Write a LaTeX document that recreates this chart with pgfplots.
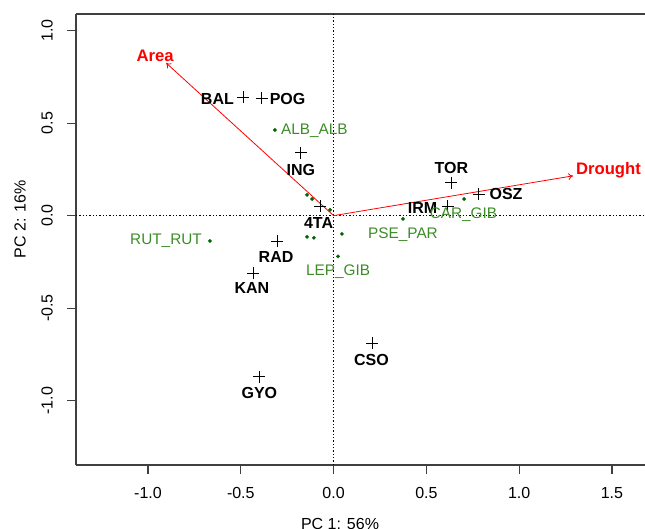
\documentclass[border=0pt]{standalone}
\usepackage{fontspec}
\setmainfont{Liberation Sans}
\usepackage{pgfplots}
\pgfplotsset{compat=1.18}
\usetikzlibrary{arrows.meta}

\definecolor{sppgreen}{RGB}{60,140,40}
\definecolor{dotgreen}{RGB}{0,100,0}
\definecolor{axisgray}{RGB}{64,64,64}
\definecolor{vecred}{RGB}{255,0,0}

\newcommand{\site}[3]{\node[font=\fontsize{12}{14}\selectfont\bfseries, inner sep=0pt] at (axis cs:#1,#2) {#3};}
\newcommand{\spp}[3]{\node[font=\fontsize{11.5}{13}\selectfont, text=sppgreen, inner sep=0pt] at (axis cs:#1,#2) {#3};}

\begin{document}
\begin{tikzpicture}
\begin{axis}[
  scale only axis,
  width=426.75pt, height=338.25pt,
  xmin=-1.388, xmax=1.678,
  ymin=-1.348, ymax=1.090,
  axis x line*=box, axis y line*=left,
  xtick pos=bottom, ytick pos=left,
  axis line style={axisgray, line width=0.9pt},
  tick style={axisgray, line width=0.9pt},
  tick align=outside,
  major tick length=6.75pt,
  xtick={-1,-0.5,0,0.5,1,1.5},
  ytick={-1,-0.5,0,0.5,1},
  minor tick num=0,
  /pgf/number format/.cd, fixed, fixed zerofill, precision=1, assume math mode=true,
  /pgfplots/.cd,
  ticklabel style={font=\fontsize{12}{14}\selectfont},
  xticklabel style={anchor=north, inner sep=0pt, yshift=-9.75pt},
  yticklabel style={xshift=-10.5pt, rotate=90, anchor=south, inner sep=0pt},
  xlabel={PC 1: 56\%},
  ylabel={PC 2: 16\%},
  label style={font=\fontsize{12}{14}\selectfont},
  xlabel style={at={(axis description cs:0.464,0)}, anchor=north, inner sep=0pt, yshift=-39.75pt},
  ylabel style={at={(axis description cs:0,0.545)}, anchor=south, inner sep=0pt, yshift=37.5pt},
  clip mode=individual,
]
\coordinate (ll) at (rel axis cs:0,0);
\coordinate (ur) at (rel axis cs:1,1);

% reference lines
\addplot[black, line width=0.6pt, dash pattern=on 0.9pt off 1.6pt] coordinates {(0,-1.348) (0,1.090)};
\addplot[black, line width=0.6pt, dash pattern=on 0.9pt off 1.6pt] coordinates {(-1.388,0) (1.678,0)};

% environmental vectors
\addplot[vecred, line width=0.6pt, -{To[length=3.5pt,width=5pt]}] coordinates {(0,0) (-0.902,0.825)};
\addplot[vecred, line width=0.6pt, -{To[length=3.5pt,width=5pt]}] coordinates {(0,0) (1.290,0.215)};

% species scores
\addplot[only marks, mark=*, mark size=1.2pt, dotgreen] coordinates {
  (-0.316,0.463) (-0.666,-0.137) (0.024,-0.220) (0.374,-0.018) (0.703,0.090)
  (-0.143,0.112) (-0.116,0.090) (-0.019,0.031)
  (-0.143,-0.115) (-0.106,-0.120) (0.045,-0.099)
};

% site scores
\addplot[only marks, mark=+, mark size=4.5pt, black, line width=0.7pt] coordinates {
  (-0.487,0.640) (-0.386,0.636) (-0.176,0.340) (-0.073,0.052)
  (-0.305,-0.137) (-0.434,-0.310) (-0.400,-0.872) (0.207,-0.690)
  (0.633,0.177) (0.783,0.117) (0.616,0.052)
};

\site{-0.626}{0.631}{BAL}
\site{-0.248}{0.631}{POG}
\site{-0.176}{0.246}{ING}
\site{-0.081}{-0.040}{4TA}
\site{-0.310}{-0.224}{RAD}
\site{-0.440}{-0.390}{KAN}
\site{-0.400}{-0.958}{GYO}
\site{0.204}{-0.780}{CSO}
\site{0.635}{0.258}{TOR}
\site{0.929}{0.117}{OSZ}
\site{0.479}{0.042}{IRM}

\spp{-0.103}{0.457}{ALB\_ALB}
\spp{-0.903}{-0.137}{RUT\_RUT}
\spp{0.024}{-0.304}{LEP\_GIB}
\spp{0.374}{-0.104}{PSE\_PAR}
\spp{0.700}{0.004}{CAR\_GIB}

\node[font=\fontsize{12.5}{14}\selectfont\bfseries, text=vecred, inner sep=0pt] at (axis cs:-0.962,0.863) {Area};
\node[font=\fontsize{12.5}{14}\selectfont\bfseries, text=vecred, inner sep=0pt] at (axis cs:1.481,0.247) {Drought};
\end{axis}
\pgfresetboundingbox
\path ([shift={(-57pt,-47.25pt)}]ll) rectangle ([shift={(0pt,10.5pt)}]ur);
\end{tikzpicture}
\end{document}
